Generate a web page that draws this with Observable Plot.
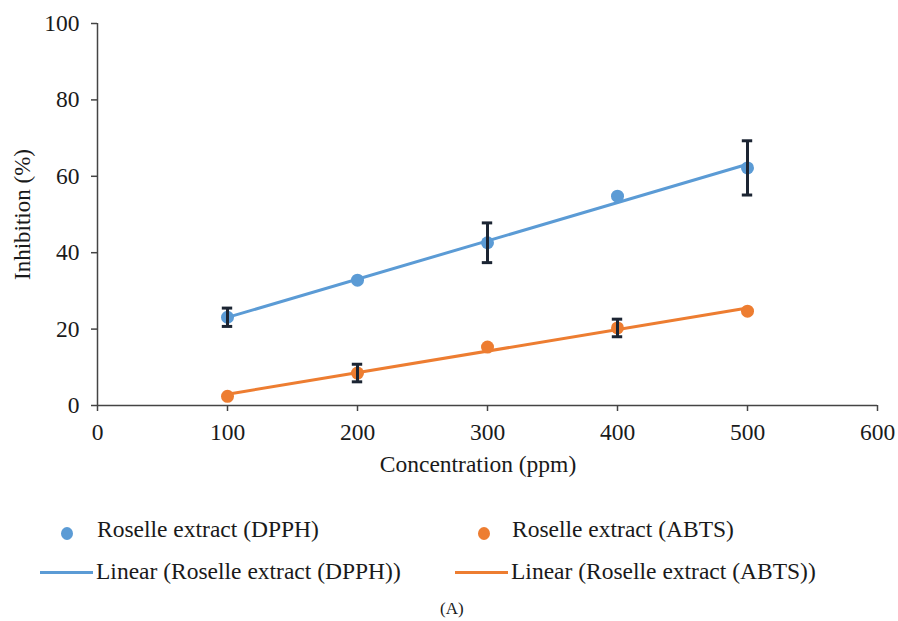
<!DOCTYPE html>
<html>
<head>
<meta charset="utf-8">
<script src="https://cdn.jsdelivr.net/npm/d3@7"></script>
<script src="https://cdn.jsdelivr.net/npm/@observablehq/plot@0.6"></script>
<style>
  body { margin: 0; background: #fff; }
  #wrap { position: relative; width: 898px; height: 621px; font-family: "Liberation Serif", "Times New Roman", serif; color: #1a1a1a; }
  .lg { position: absolute; font-size: 23.5px; white-space: nowrap; line-height: 1; }
  .dot { position: absolute; width: 12px; height: 13px; border-radius: 50%; }
  .ln { position: absolute; height: 3px; }
</style>
</head>
<body>
<div id="wrap"></div>
<script>
const concentrations = [100, 200, 300, 400, 500];
const dpphValues = [23.1, 32.8, 42.6, 54.8, 62.2];
const dpphErrors = [2.4, 0, 5.2, 0, 7.1];
const abtsValues = [2.4, 8.5, 15.3, 20.3, 24.7];
const abtsErrors = [0, 2.3, 0, 2.3, 0];
const seriesNames = ["Roselle extract (DPPH)", "Roselle extract (ABTS)"];
const seriesColors = ["#5b9bd5", "#ed7d31"];
const xTicks = [0, 100, 200, 300, 400, 500, 600];
const yTicks = [0, 20, 40, 60, 80, 100];
const xTitle = "Concentration (ppm)";
const yTitle = "Inhibition (%)";
const caption = "(A)";

const rows = [];
concentrations.forEach((c, i) => {
  rows.push({conc: c, value: dpphValues[i], err: dpphErrors[i], series: seriesNames[0]});
  rows.push({conc: c, value: abtsValues[i], err: abtsErrors[i], series: seriesNames[1]});
});
const errRows = rows.filter(d => d.err > 0);
const capHalf = 4;

const chart = Plot.plot({
  width: 898,
  height: 490,
  marginLeft: 97,
  marginRight: 21,
  marginTop: 23,
  marginBottom: 85,
  style: {fontFamily: "'Liberation Serif', 'Times New Roman', serif", fontSize: "23.5px", color: "#1a1a1a", background: "white"},
  x: {domain: [0, 600], label: null},
  y: {domain: [0, 100], label: null},
  color: {domain: seriesNames, range: seriesColors},
  marks: [
    Plot.axisX({ticks: xTicks, tickSize: 6, tickPadding: 12, label: null, stroke: "#444", strokeWidth: 1.5, fontSize: 23.5}),
    Plot.axisY({ticks: yTicks, tickSize: 6, tickPadding: 12, label: null, stroke: "#444", strokeWidth: 1.5, fontSize: 23.5}),
    Plot.ruleY([0], {stroke: "#444", strokeWidth: 1.5}),
    Plot.ruleX([0], {stroke: "#444", strokeWidth: 1.5}),
    Plot.linearRegressionY(rows, {x: "conc", y: "value", stroke: "series", ci: 0, strokeWidth: 3}),
    Plot.dot(rows, {x: "conc", y: "value", fill: "series", r: 6.5}),
    Plot.ruleX(errRows, {x: "conc", y1: d => d.value - d.err, y2: d => d.value + d.err, stroke: "#1c2533", strokeWidth: 3}),
    Plot.ruleY(errRows, {y: d => d.value - d.err, x1: d => d.conc - capHalf, x2: d => d.conc + capHalf, stroke: "#1c2533", strokeWidth: 3}),
    Plot.ruleY(errRows, {y: d => d.value + d.err, x1: d => d.conc - capHalf, x2: d => d.conc + capHalf, stroke: "#1c2533", strokeWidth: 3}),
    Plot.text([yTitle], {frameAnchor: "left", textAnchor: "middle", dx: -75, dy: 0, rotate: -90, fontSize: 23}),
    Plot.text([xTitle], {frameAnchor: "bottom", textAnchor: "middle", dy: 66, dx: -9.5, fontSize: 23.5})
  ]
});

const wrap = document.getElementById("wrap");
wrap.appendChild(chart);

function add(html, cls, style) {
  const el = document.createElement("div");
  el.className = cls;
  Object.assign(el.style, style);
  if (html) el.textContent = html;
  wrap.appendChild(el);
}
// legend row 1: markers
add("", "dot", {left: "61px", top: "527px", background: seriesColors[0]});
add(seriesNames[0], "lg", {left: "97px", top: "518px"});
add("", "dot", {left: "478px", top: "527px", background: seriesColors[1]});
add(seriesNames[1], "lg", {left: "512px", top: "518px"});
// legend row 2: trend lines
add("", "ln", {left: "40px", top: "571px", width: "53px", background: seriesColors[0]});
add("Linear (" + seriesNames[0] + ")", "lg", {left: "96px", top: "560px"});
add("", "ln", {left: "455px", top: "571px", width: "53px", background: seriesColors[1]});
add("Linear (" + seriesNames[1] + ")", "lg", {left: "511px", top: "560px"});
add(caption, "lg", {left: "440px", top: "600px", fontSize: "17px"});
</script>
</body>
</html>
